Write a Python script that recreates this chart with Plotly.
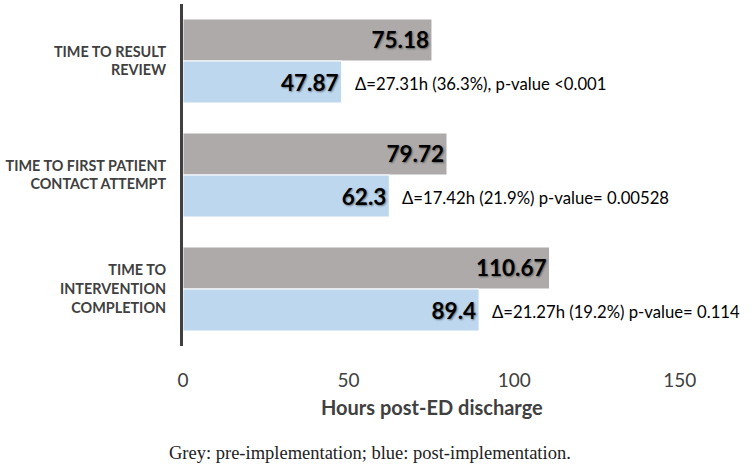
import plotly.graph_objects as go

categories = ["TIME TO RESULT<br>REVIEW",
              "TIME TO FIRST PATIENT<br>CONTACT ATTEMPT",
              "TIME TO<br>INTERVENTION<br>COMPLETION"]
pre_values = [75.18, 79.72, 110.67]
post_values = [47.87, 62.3, 89.4]
post_labels = ["47.87", "62.3", "89.4"]
delta_labels = ["\u0394=27.31h (36.3%), p-value <0.001",
                "\u0394=17.42h (21.9%) p-value= 0.00528",
                "\u0394=21.27h (19.2%) p-value= 0.114"]
tick_values = [0, 50, 100, 150]
axis_title = "Hours post-ED discharge"
caption = "Grey: pre-implementation; blue: post-implementation."

GREY = "#AEAAAA"
BLUE = "#BDD7EE"
DARK = "#404040"
SANS = "Lato, Open Sans, sans-serif"

val_font = dict(family=SANS, size=22.5, color="black",
                weight="bold", shadow="1px 1px 2px rgba(0,0,0,0.45)")

fig = go.Figure()
fig.add_trace(go.Bar(y=categories, x=pre_values, orientation="h",
                     marker=dict(color=GREY, line=dict(color="white", width=1)),
                     text=[f"{v:.2f}" for v in pre_values], textposition="inside",
                     insidetextanchor="end", textfont=val_font, name="pre"))
fig.add_trace(go.Bar(y=categories, x=post_values, orientation="h",
                     marker=dict(color=BLUE, line=dict(color="white", width=1)),
                     text=post_labels, textposition="inside",
                     insidetextanchor="end", textfont=val_font, name="post"))

for cat, v, d in zip(categories, post_values, delta_labels):
    fig.add_annotation(x=v, y=cat, text=d, showarrow=False, xanchor="left",
                       xshift=11, yshift=-23,
                       font=dict(family=SANS, size=16.7, color="black"))

fig.add_annotation(x=0.5, y=0, xref="paper", yref="paper", text=axis_title,
                   showarrow=False, xanchor="center", yanchor="middle", xshift=-33,
                   yshift=-(407 - 346),
                   font=dict(family=SANS, size=20, color=DARK, weight="bold"))
fig.add_annotation(x=0.5, y=0, xref="paper", yref="paper", text=caption,
                   showarrow=False, xanchor="center", yanchor="middle", xshift=-95,
                   yshift=-(453 - 346),
                   font=dict(family="Liberation Serif, DejaVu Serif, serif", size=18.5,
                             color="#222222"))

fig.update_layout(
    width=752, height=468,
    margin=dict(l=183, r=6, t=4, b=122, autoexpand=False),
    paper_bgcolor="white", plot_bgcolor="white",
    barmode="group", bargap=0.263, bargroupgap=0,
    showlegend=False,
    xaxis=dict(range=[0, 170], tickvals=tick_values, showgrid=False, zeroline=False,
               showline=False, ticks="outside", ticklen=17, tickcolor="rgba(0,0,0,0)",
               automargin=False,
               tickfont=dict(family=SANS, size=19, color=DARK)),
    yaxis=dict(autorange="reversed", showgrid=False, zeroline=False, showline=True,
               linecolor=DARK, linewidth=3, ticks="outside", ticklen=11,
               tickcolor="rgba(0,0,0,0)", automargin=False,
               tickfont=dict(family=SANS, size=14.4, color=DARK, weight="bold")),
)

fig.write_html("out.html", config={"displayModeBar": False},
               post_script="document.body.style.margin='0';document.body.style.overflow='hidden';")
